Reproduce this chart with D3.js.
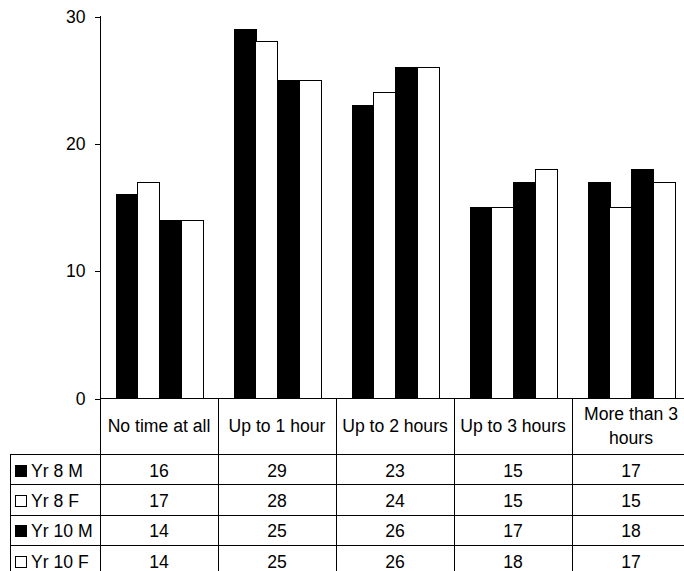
<!DOCTYPE html>
<html>
<head>
<meta charset="utf-8">
<script src="https://cdn.jsdelivr.net/npm/d3@7"></script>
<style>
  html, body { margin: 0; padding: 0; background: #fff; }
  svg { display: block; }
  text { font-family: "Liberation Sans", Arial, sans-serif; font-size: 17.6px; fill: #000; }
</style>
</head>
<body>
<svg id="chart" width="684" height="571"></svg>
<script>
const categories = ["No time at all", "Up to 1 hour", "Up to 2 hours", "Up to 3 hours", "More than 3 hours"];
const seriesNames = ["Yr 8 M", "Yr 8 F", "Yr 10 M", "Yr 10 F"];
const yr8M  = [16, 29, 23, 15, 17];
const yr8F  = [17, 28, 24, 15, 15];
const yr10M = [14, 25, 26, 17, 18];
const yr10F = [14, 25, 26, 18, 17];
const yTicks = [0, 10, 20, 30];
const seriesFill = ["#000", "#fff", "#000", "#fff"];

const seriesValues = [yr8M, yr8F, yr10M, yr10F];
const series = seriesNames.map((name, i) => ({ name, fill: seriesFill[i], values: seriesValues[i] }));

const svg = d3.select("#chart");
const axisX = 100.5, plotRight = 690, yTop = 16, yZero = 398;
const headerBottom = 454;
const rowH = 30.3;
const legendLeft = 10.5;

const x = d3.scaleBand().domain(categories).range([100, plotRight]).paddingInner(0).paddingOuter(0);
const xi = d3.scaleBand().domain(seriesNames).range([0, x.bandwidth()]).paddingInner(0).paddingOuter(0.73);
const y = d3.scaleLinear().domain([0, 30]).range([yZero, yTop]);

// Bars
const g = svg.append("g");
series.forEach(s => {
  g.selectAll(null)
    .data(categories.map((c, j) => ({ c, v: s.values[j] })))
    .enter().append("rect")
    .attr("x", d => Math.round(x(d.c) + xi(s.name)) + 0.5)
    .attr("y", d => Math.round(y(d.v)) + 0.5)
    .attr("width", Math.round(xi.bandwidth()))
    .attr("height", d => Math.round(y(0)) - Math.round(y(d.v)))
    .attr("fill", s.fill)
    .attr("stroke", "#000")
    .attr("stroke-width", 1)
    .attr("shape-rendering", "crispEdges");
});

// Y axis
const yAxis = d3.axisLeft(y).tickValues(yTicks).tickSize(6).tickPadding(9).tickFormat(d3.format("d"));
const ga = svg.append("g").attr("transform", `translate(${axisX},0)`).call(yAxis);
ga.select(".domain").remove();
ga.selectAll("line").attr("stroke", "#000").attr("shape-rendering", "crispEdges")
  .attr("transform", "translate(0,0.5)");
ga.selectAll("text").attr("font-size", null).attr("font-family", null).attr("dy", "0.35em")
  .style("font-size", "17.6px");
svg.append("line").attr("x1", axisX).attr("x2", axisX).attr("y1", y(30)).attr("y2", y(0))
  .attr("stroke", "#000").attr("shape-rendering", "crispEdges");

// Table grid
const lines = svg.append("g").attr("stroke", "#000").attr("shape-rendering", "crispEdges");
// x axis / header top
lines.append("line").attr("x1", axisX).attr("x2", 684).attr("y1", yZero + 0.5).attr("y2", yZero + 0.5);
// column boundaries
categories.forEach((c, j) => {
  if (j === 0) return;
  lines.append("line").attr("x1", Math.round(x(c)) + 0.5).attr("x2", Math.round(x(c)) + 0.5)
    .attr("y1", yZero).attr("y2", 571);
});
lines.append("line").attr("x1", axisX).attr("x2", axisX).attr("y1", yZero).attr("y2", 571);
lines.append("line").attr("x1", legendLeft).attr("x2", legendLeft).attr("y1", headerBottom).attr("y2", 571);
// row lines
for (let i = 0; i <= seriesNames.length; i++) {
  const yy = Math.round(headerBottom + i * rowH) + 0.5;
  lines.append("line").attr("x1", legendLeft).attr("x2", 684).attr("y1", yy).attr("y2", yy);
}

// Header labels with wrapping
const headerMid = (yZero + headerBottom) / 2;
categories.forEach(c => {
  const t = svg.append("text").attr("text-anchor", "middle").attr("x", x(c) + x.bandwidth() / 2);
  const words = c.split(" ");
  let linesTxt = [];
  let cur = [];
  const probe = svg.append("text").style("font-size", "17.6px");
  words.forEach(w => {
    const test = cur.concat([w]).join(" ");
    probe.text(test);
    if (probe.node().getComputedTextLength() > x.bandwidth() - 6 && cur.length) {
      linesTxt.push(cur.join(" "));
      cur = [w];
    } else cur.push(w);
  });
  linesTxt.push(cur.join(" "));
  probe.remove();
  const lh = 23.5;
  linesTxt.forEach((ln, k) => {
    t.append("tspan").attr("x", x(c) + x.bandwidth() / 2)
      .attr("y", headerMid + (k - (linesTxt.length - 1) / 2) * lh)
      .attr("dy", "0.35em").text(ln);
  });
});

// Data rows
series.forEach((s, i) => {
  const cy = headerBottom + (i + 0.5) * rowH + 1.5;
  svg.append("rect").attr("x", 15.5).attr("y", Math.round(cy - 6) + 0.5).attr("width", 11).attr("height", 11)
    .attr("fill", s.fill).attr("stroke", "#000").attr("shape-rendering", "crispEdges");
  svg.append("text").attr("x", 31).attr("y", cy).attr("dy", "0.35em").text(s.name);
  categories.forEach((c, j) => {
    svg.append("text").attr("text-anchor", "middle").attr("x", x(c) + x.bandwidth() / 2)
      .attr("y", cy).attr("dy", "0.35em").text(s.values[j]);
  });
});
</script>
</body>
</html>
